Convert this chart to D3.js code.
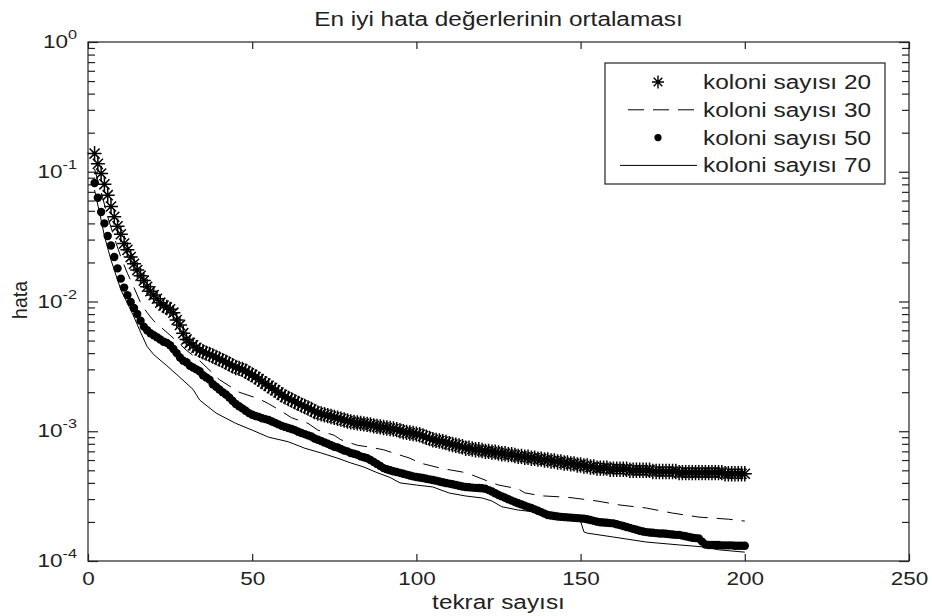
<!DOCTYPE html>
<html lang="tr">
<head>
    <meta charset="UTF-8">
    <title>En iyi hata</title>
    <script src="https://cdn.jsdelivr.net/npm/d3@7"></script>
    <style>
        body{ margin:0; background:#fff; }
        text{ font-family: "Liberation Sans", Arial, sans-serif; fill:#222; }
    </style>
</head>
<body>
<svg id="fig" width="932" height="616"></svg>
<script>
    // iteration axis
    let iterMark = d3.range(2, 201)

    // koloni sayisi 20 (asterisk markers), x = 2..200
    let s20 = [0.138,0.115,0.097,0.080,0.066,0.054,0.045,0.038,0.033,
        0.028,0.025,0.022,0.0195,0.0175,0.0158,0.0145,0.0130,0.0120,0.0112,
        0.0105,0.0098,0.0093,0.0090,0.0087,0.0082,0.0072,0.0066,0.0057,0.0051,
        0.0048,0.0046,0.0044,0.0042,0.0041,0.0040,0.0039,0.0038,0.0037,0.0036,
        0.0035,0.0034,0.0033,0.0032,0.0031,0.00305,0.0030,0.0029,0.0028,0.00272,
        0.00262,0.00252,0.00242,0.00233,0.00224,0.00215,0.00207,0.00199,0.00191,0.00184,
        0.00179,0.00174,0.00169,0.00164,0.00159,0.00155,0.00151,0.00147,0.00142,0.00138,
        0.00136,0.00134,0.00132,0.00130,0.00128,0.00126,0.00124,0.00122,0.00120,0.00118,
        0.00117,0.00116,0.00115,0.00114,0.00113,0.00112,0.00110,0.00109,0.00108,0.00107,
        0.00106,0.00105,0.00104,0.00103,0.00101,0.00099,0.00098,0.00097,0.00096,0.00095,
        0.00094,0.00092,0.00090,0.00088,0.00086,0.00085,0.00084,0.00083,0.00082,0.00080,
        0.00079,0.00078,0.00077,0.00076,0.00074,0.00074,0.00073,0.00072,0.00072,0.00071,
        0.00070,0.00070,0.00069,0.00069,0.00068,0.00067,0.00067,0.00066,0.00066,0.00065,
        0.00064,0.00064,0.00063,0.00063,0.00062,0.00062,0.00061,0.00061,0.00060,0.00060,
        0.00059,0.00059,0.00058,0.00058,0.00057,0.00057,0.00056,0.00056,0.00055,0.00055,
        0.00054,0.00054,0.00053,0.00053,0.00052,0.00052,0.00052,0.00052,0.00051,0.00051,
        0.00051,0.00051,0.00051,0.00051,0.00050,0.00050,0.00050,0.00050,0.00050,0.00050,
        0.00050,0.00049,0.00049,0.00049,0.00049,0.00049,0.00049,0.00049,0.00049,0.00048,
        0.00048,0.00048,0.00048,0.00048,0.00048,0.00048,0.00048,0.00048,0.00048,0.00048,
        0.00048,0.00048,0.00048,0.00047,0.00047,0.00047,0.00047,0.00047,0.00047,0.00047]

    // koloni sayisi 50 (dot markers), x = 2..200
    let s50 = [0.082,0.063,0.049,0.040,0.032,0.027,0.022,0.018,0.0150,
        0.0128,0.0112,0.0099,0.0089,0.0080,0.0071,0.0064,0.0060,0.0057,0.0055,
        0.0053,0.0051,0.0049,0.0048,0.0046,0.0043,0.0040,0.0037,0.0035,0.0034,
        0.0032,0.0031,0.0030,0.0029,0.0027,0.0026,0.0025,0.0023,0.0022,0.0021,
        0.0020,0.00192,0.00182,0.00172,0.00162,0.00156,0.00150,0.00144,0.00138,0.00134,
        0.00131,0.00129,0.00126,0.00124,0.00122,0.00119,0.00116,0.00113,0.00110,0.00108,
        0.00106,0.00104,0.00102,0.00099,0.00097,0.00095,0.00093,0.00091,0.00088,0.00086,
        0.00084,0.00082,0.00080,0.00078,0.00076,0.00075,0.00073,0.00071,0.00070,0.00068,
        0.00067,0.00066,0.00064,0.00063,0.00062,0.00060,0.00058,0.00056,0.00054,0.00052,
        0.000510,0.000500,0.000492,0.000485,0.000478,0.000470,0.000463,0.000456,0.000449,0.000444,
        0.000440,0.000436,0.000431,0.000426,0.000421,0.000416,0.000410,0.000405,0.000399,0.000395,
        0.000390,0.000385,0.000380,0.000375,0.000372,0.000370,0.000368,0.000366,0.000365,0.000364,
        0.000360,0.000352,0.000343,0.000333,0.000323,0.000315,0.000307,0.000299,0.000292,0.000285,
        0.000279,0.000273,0.000267,0.000261,0.000256,0.000250,0.000244,0.000238,0.000232,0.000226,
        0.000224,0.000222,0.000220,0.000219,0.000218,0.000217,0.000216,0.000215,0.000214,0.000213,
        0.000212,0.000210,0.000207,0.000204,0.000201,0.000199,0.000198,0.000197,0.000196,0.000195,
        0.000192,0.000189,0.000186,0.000183,0.000180,0.000177,0.000174,0.000171,0.000169,0.000167,
        0.000166,0.000165,0.000164,0.000163,0.000163,0.000162,0.000161,0.000160,0.000159,0.000159,
        0.000157,0.000155,0.000153,0.000151,0.000150,0.000149,0.000141,0.000134,0.000133,0.000133,
        0.000133,0.000133,0.000132,0.000132,0.000132,0.000132,0.000131,0.000131,0.000131,0.000131]

    // koloni sayisi 30 (dashed line)
    let x30 = [2,4,6,8,10,12,14,16,18,20,22,25,28,30,34,40,46,52,55,59,62,67,70,75,77,82,85,90,93,98,
        101,106,109,114,117,122,125,131,133,138,146,155,162,170,178,186,195,200]
    let s30 = [0.105,0.070,0.045,0.031,0.022,0.0165,0.0128,0.0098,0.0082,0.0071,0.0064,0.0055,0.0047,0.0042,
        0.0035,0.0025,0.0020,0.00178,0.00163,0.00142,0.00127,0.00115,0.00102,0.00093,0.00086,0.00078,
        0.00076,0.00072,0.00068,0.00062,0.00057,0.00053,0.00051,0.000485,0.00046,0.00041,0.000385,
        0.00036,0.000335,0.000318,0.00031,0.00029,0.00027,0.000256,0.000234,0.000218,0.00021,0.000203]

    // koloni sayisi 70 (solid line)
    let x70 = [2,3,4,5,6,7,8,9,10,12,14,16,18,20,24,28,32,34,39,45,50,55,61,66,71,76,80,84,88,92,95,
        100,105,110,115,120,123,126,131,136,141,146,150,151,152,160,170,180,188,192,200]
    let s70 = [0.0723,0.0554,0.0425,0.032,0.0258,0.0209,0.0175,0.0147,0.0123,0.0097,0.0076,0.0058,0.0045,
        0.0039,0.0032,0.0026,0.0021,0.00174,0.00138,0.00115,0.00102,0.00090,0.00083,0.00074,0.00068,
        0.00062,0.00057,0.00053,0.00048,0.00044,0.00040,0.000385,0.000372,0.000334,0.000317,0.000306,
        0.00029,0.000262,0.000247,0.000239,0.000218,0.000208,0.000202,0.000168,0.000164,0.000153,
        0.00014,0.000133,0.000128,0.000122,0.000117]

    let xTicks = [0, 50, 100, 150, 200, 250]
    let yDecades = [1e-4, 1e-3, 1e-2, 1e-1, 1]
    let yExp = ["-4", "-3", "-2", "-1", "0"]
    let legendLabels = ["koloni sayısı 20", "koloni sayısı 30", "koloni sayısı 50", "koloni sayısı 70"]

    let svg = d3.select("#fig")
    let axLeft = 88, axRight = 909, axTop = 42, axBottom = 561

    let x = d3.scaleLinear().domain([0, 250]).range([axLeft, axRight])
    let y = d3.scaleLog().domain([1e-4, 1]).range([axBottom, axTop])

    let minors = []
    yDecades.slice(0, 4).forEach(function (d) {
        for (let k = 2; k < 10; k++) minors.push(d * k)
    })

    // widen text a bit, the original picture is stretched sideways
    function stretch(sel) {
        sel.each(function () {
            let w = this.getComputedTextLength()
            d3.select(this).attr("textLength", w * 1.25).attr("lengthAdjust", "spacingAndGlyphs")
        })
    }

    function star(s) {
        let d = s * 0.72
        return "M" + (-s) + ",0L" + s + ",0M0," + (-s * 1.1) + "L0," + (s * 1.1) +
            "M" + (-d) + "," + (-d) + "L" + d + "," + d + "M" + (-d) + "," + d + "L" + d + "," + (-d)
    }

    // axes box
    svg.append("rect")
        .attr("x", axLeft).attr("y", axTop)
        .attr("width", axRight - axLeft).attr("height", axBottom - axTop)
        .attr("fill", "none").attr("stroke", "#222").attr("stroke-width", 1.2)

    // x ticks bottom / top (inside)
    let xb = svg.append("g").attr("transform", "translate(0," + axBottom + ")")
        .call(d3.axisBottom(x).tickValues(xTicks).tickSize(-7).tickSizeOuter(0).tickPadding(11))
    let xt = svg.append("g").attr("transform", "translate(0," + axTop + ")")
        .call(d3.axisTop(x).tickValues(xTicks).tickSize(-7).tickSizeOuter(0).tickFormat(""))

    // y ticks left / right (inside)
    let yl = svg.append("g").attr("transform", "translate(" + axLeft + ",0)")
        .call(d3.axisLeft(y).tickValues(yDecades).tickSize(-10).tickSizeOuter(0).tickFormat(""))
    let ylm = svg.append("g").attr("transform", "translate(" + axLeft + ",0)")
        .call(d3.axisLeft(y).tickValues(minors).tickSize(-7).tickSizeOuter(0).tickFormat(""))
    let yr = svg.append("g").attr("transform", "translate(" + axRight + ",0)")
        .call(d3.axisRight(y).tickValues(yDecades).tickSize(-10).tickSizeOuter(0).tickFormat(""))
    let yrm = svg.append("g").attr("transform", "translate(" + axRight + ",0)")
        .call(d3.axisRight(y).tickValues(minors).tickSize(-7).tickSizeOuter(0).tickFormat(""))

    svg.selectAll(".domain").remove()
    svg.selectAll(".tick line").attr("stroke", "#222").attr("stroke-width", 1.2)
    xb.selectAll("text").attr("font-size", 18).attr("font-family", "Liberation Sans").attr("fill", "#222").call(stretch)

    // y labels 10^n
    let ylab = svg.append("g").selectAll("text")
        .data(yDecades)
        .enter()
        .append("text")
        .attr("x", 77)
        .attr("y", function (d) { return y(d) + 6 })
        .attr("text-anchor", "end")
        .attr("font-size", 18)
    ylab.append("tspan").text("10")
    ylab.append("tspan")
        .attr("dy", -9)
        .attr("font-size", 13)
        .text(function (d, i) { return yExp[i] })
    ylab.call(stretch)

    // data
    let plot = svg.append("g")

    plot.append("path")
        .datum(x70.map(function (d, i) { return [d, s70[i]] }))
        .attr("fill", "none").attr("stroke", "#000").attr("stroke-width", 1)
        .attr("d", d3.line().x(function (d) { return x(d[0]) }).y(function (d) { return y(d[1]) }))

    plot.append("path")
        .datum(x30.map(function (d, i) { return [d, s30[i]] }))
        .attr("fill", "none").attr("stroke", "#000").attr("stroke-width", 1)
        .attr("stroke-dasharray", "16,9")
        .attr("d", d3.line().x(function (d) { return x(d[0]) }).y(function (d) { return y(d[1]) }))

    plot.selectAll(".dot")
        .data(s50)
        .enter()
        .append("circle")
        .attr("class", "dot")
        .attr("cx", function (d, i) { return x(iterMark[i]) })
        .attr("cy", function (d) { return y(d) })
        .attr("r", 4.2)
        .attr("fill", "#000")

    plot.selectAll(".star")
        .data(s20)
        .enter()
        .append("path")
        .attr("class", "star")
        .attr("transform", function (d, i) { return "translate(" + x(iterMark[i]) + "," + y(d) + ")" })
        .attr("d", star(7))
        .attr("fill", "none").attr("stroke", "#000").attr("stroke-width", 1.5)

    // legend
    let lg = svg.append("g")
    lg.append("rect")
        .attr("x", 605).attr("y", 63).attr("width", 280).attr("height", 121)
        .attr("fill", "#fff").attr("stroke", "#222").attr("stroke-width", 1.2)

    let rows = lg.selectAll(".row")
        .data(legendLabels)
        .enter()
        .append("g")
        .attr("class", "row")
        .attr("transform", function (d, i) { return "translate(0," + (82 + i * 27.8) + ")" })

    rows.append("text")
        .attr("x", 703).attr("y", 7)
        .attr("font-size", 19.5)
        .text(function (d) { return d })
        .call(stretch)

    rows.filter(function (d, i) { return i === 0 }).append("path")
        .attr("transform", "translate(658,0)")
        .attr("d", star(6))
        .attr("fill", "none").attr("stroke", "#000").attr("stroke-width", 1.4)
    rows.filter(function (d, i) { return i === 1 }).append("line")
        .attr("x1", 628).attr("x2", 697)
        .attr("stroke", "#000").attr("stroke-dasharray", "16,9")
    rows.filter(function (d, i) { return i === 2 }).append("circle")
        .attr("cx", 658).attr("r", 3.6).attr("fill", "#000")
    rows.filter(function (d, i) { return i === 3 }).append("line")
        .attr("x1", 620).attr("x2", 697)
        .attr("stroke", "#000")

    // title and labels
    svg.append("text")
        .attr("x", (axLeft + axRight) / 2).attr("y", 26)
        .attr("text-anchor", "middle")
        .attr("font-size", 19.5)
        .text("En iyi hata değerlerinin ortalaması")
        .call(stretch)

    svg.append("text")
        .attr("x", (axLeft + axRight) / 2).attr("y", 609)
        .attr("text-anchor", "middle")
        .attr("font-size", 19.5)
        .text("tekrar sayısı")
        .call(stretch)

    svg.append("text")
        .attr("transform", "translate(27,300) rotate(-90)")
        .attr("text-anchor", "middle")
        .attr("font-size", 19.5)
        .text("hata")
</script>
</body>
</html>
